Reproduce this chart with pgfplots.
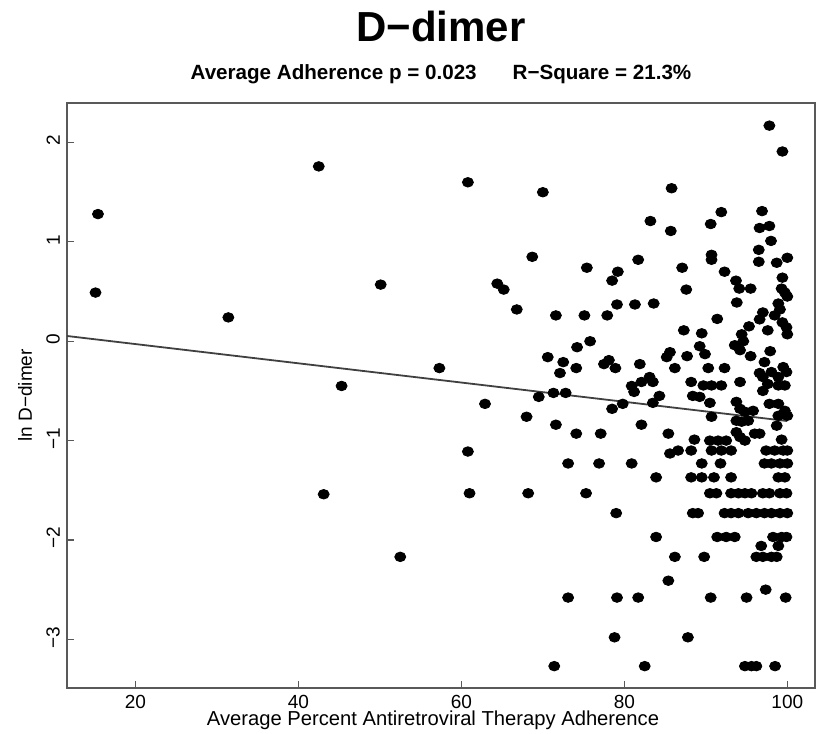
\documentclass[border=0pt]{standalone}
\usepackage{fontspec}
\setmainfont{Liberation Sans}
\usepackage{pgfplots}
\pgfplotsset{compat=1.18}
\begin{document}
\begin{tikzpicture}
\useasboundingbox (-33.5pt,-23pt) rectangle (377pt,344pt);
\begin{axis}[at={(0,0)}, anchor=south west, scale only axis,
  width=374pt, height=292.6pt, clip=false,
  xmin=11.6, xmax=103.4, ymin=-3.49, ymax=2.40,
  axis line style={draw=black!65, line width=1pt},
  tick style={draw=black!65, line width=0.6pt},
  tick align=inside, major tick length=3.5pt, tick pos=left,
  xtick={20,40,60,80,100}, ytick={-3,-2,-1,0,1,2},
  xticklabels={20,40,60,80,100},
  yticklabels={−3,−2,−1,0,1,2},
  ticklabel style={font=\fontsize{9.5}{11}\selectfont},
  yticklabel style={rotate=90, anchor=south, xshift=1pt},
  xlabel={Average Percent Antiretroviral Therapy Adherence},
  ylabel={ln D−dimer},
  xlabel style={font=\fontsize{10.1}{12}\selectfont, at={(axis description cs:0.5,0)}, anchor=center, yshift=-16pt, xshift=-4pt},
  ylabel style={font=\fontsize{9.5}{11}\selectfont, at={(axis description cs:0,0.5)}, anchor=center, yshift=21pt},
]
\addplot[black!75, line width=0.9pt, no marks] coordinates {(11.6,0.053) (100,-0.803)};
\addplot[only marks, mark=*, mark size=2.4pt, mark options={xscale=1.15, fill=black, draw=black}] table {
x y
15.4 1.28
15.1 0.49
31.4 0.24
42.5 1.76
50.1 0.57
57.3 -0.27
45.3 -0.45
43.1 -1.54
52.5 -2.17
60.8 1.60
70.0 1.50
68.7 0.85
75.4 0.74
79.2 0.70
78.5 0.61
81.7 0.82
64.4 0.58
65.2 0.52
66.8 0.32
71.6 0.26
75.1 0.26
77.9 0.26
79.1 0.37
81.3 0.37
75.8 0.00
74.2 -0.06
70.6 -0.16
72.5 -0.21
74.1 -0.27
72.1 -0.32
77.5 -0.23
78.1 -0.19
78.9 -0.27
81.9 -0.23
80.9 -0.45
62.9 -0.63
69.5 -0.56
71.3 -0.52
72.8 -0.52
68.0 -0.76
71.6 -0.84
74.1 -0.93
77.1 -0.93
78.5 -0.68
79.8 -0.63
81.2 -0.51
82.1 -0.84
60.8 -1.11
73.1 -1.23
76.9 -1.23
80.9 -1.23
61.0 -1.53
68.2 -1.53
75.3 -1.53
79.0 -1.73
73.1 -2.58
79.1 -2.58
81.7 -2.58
78.8 -2.98
71.4 -3.27
97.8 2.17
99.4 1.91
85.8 1.54
91.9 1.30
96.9 1.31
83.2 1.21
90.6 1.18
85.7 1.11
96.6 1.14
97.8 1.16
98.0 1.01
87.1 0.74
90.7 0.87
90.7 0.82
96.5 0.92
96.5 0.80
98.7 0.79
100 0.84
92.3 0.70
93.7 0.61
94.1 0.53
95.5 0.53
99.4 0.64
87.6 0.52
99.3 0.53
99.7 0.49
100 0.45
83.6 0.38
93.8 0.39
98.9 0.38
99.1 0.32
97.0 0.29
96.6 0.22
98.45 0.26
91.4 0.225
99.4 0.19
99.9 0.14
100 0.07
95.3 0.15
94.4 0.07
87.3 0.11
89.5 0.08
97.6 0.11
89.25 -0.05
89.9 -0.13
93.55 -0.04
94.2 -0.09
94.6 0.00
95.5 -0.15
97.9 -0.10
85.6 -0.11
85.2 -0.16
87.7 -0.15
86.2 -0.27
90.3 -0.27
92.3 -0.27
97.2 -0.21
99.5 -0.26
99.9 -0.31
96.6 -0.32
97.0 -0.36
98.05 -0.31
98.9 -0.36
82.1 -0.41
83.1 -0.36
83.5 -0.41
88.2 -0.41
89.7 -0.445
90.7 -0.445
91.9 -0.445
94.2 -0.41
97.0 -0.50
97.6 -0.43
98.9 -0.445
99.7 -0.445
84.3 -0.55
83.5 -0.62
88.4 -0.55
89.25 -0.56
90.5 -0.62
93.75 -0.61
94.2 -0.68
94.8 -0.71
95.8 -0.70
97.8 -0.63
98.9 -0.63
99.7 -0.70
100 -0.75
98.9 -0.75
90.7 -0.76
93.75 -0.80
94.4 -0.81
95.2 -0.80
98.7 -0.85
85.4 -0.93
93.75 -0.915
94.2 -0.965
94.8 -1.0
96.0 -0.93
96.6 -0.93
88.6 -0.99
90.5 -1.0
91.5 -1.0
92.5 -1.0
99.3 -0.99
85.6 -1.13
86.6 -1.10
88.2 -1.10
90.7 -1.10
91.9 -1.10
93.1 -1.10
97.4 -1.10
98.45 -1.10
99.5 -1.10
100 -1.10
89.5 -1.23
91.8 -1.23
97.2 -1.23
98.05 -1.23
99.1 -1.23
100 -1.23
83.9 -1.37
88.2 -1.37
89.5 -1.37
91.0 -1.37
93.1 -1.37
98.9 -1.37
99.7 -1.37
90.5 -1.53
91.3 -1.53
93.1 -1.53
94.0 -1.53
94.8 -1.53
95.6 -1.53
97.0 -1.53
97.8 -1.53
99.1 -1.53
99.9 -1.53
88.4 -1.73
89.05 -1.73
92.3 -1.73
93.1 -1.73
94.0 -1.73
95.2 -1.73
96.2 -1.73
97.2 -1.73
98.05 -1.73
99.1 -1.73
100 -1.73
83.9 -1.97
91.4 -1.97
92.5 -1.97
93.55 -1.97
98.25 -1.97
99.3 -1.97
99.9 -1.97
96.8 -2.06
98.9 -2.06
86.2 -2.17
89.8 -2.17
96.2 -2.17
97.0 -2.17
98.05 -2.17
98.7 -2.17
85.4 -2.41
90.6 -2.58
95.0 -2.58
97.35 -2.50
99.8 -2.58
87.8 -2.98
82.5 -3.27
94.8 -3.27
95.6 -3.27
96.2 -3.27
98.5 -3.27
};
\node[font=\bfseries\fontsize{21}{25}\selectfont, yshift=38pt] at (rel axis cs:0.5,1) {D−dimer};
\node[font=\bfseries\fontsize{10.3}{12}\selectfont, yshift=14.3pt] at (rel axis cs:0.5,1) {Average Adherence p = 0.023\hspace{18pt}R−Square = 21.3\%};
\end{axis}
\end{tikzpicture}
\end{document}
